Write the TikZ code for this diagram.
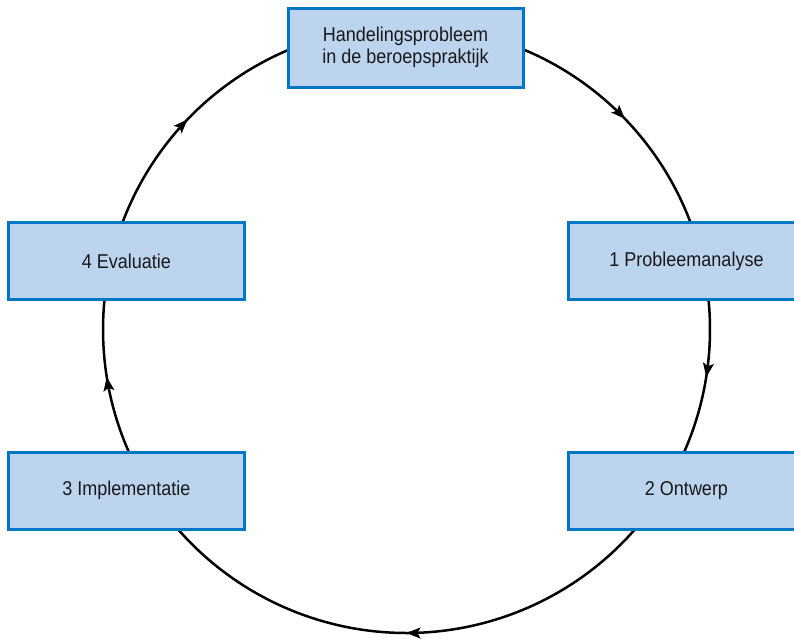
\documentclass[tikz,border=0pt]{standalone}
\usepackage{fontspec}
\setmainfont{Liberation Sans}[FakeStretch=0.9]
\usetikzlibrary{arrows.meta,decorations.markings}
\definecolor{boxfill}{RGB}{189,212,238}
\definecolor{boxline}{RGB}{0,118,198}
\definecolor{txt}{RGB}{25,25,25}
\begin{document}
\begin{tikzpicture}[x=1pt,y=-1pt,
  stage/.style={draw=boxline,fill=boxfill,line width=3pt,minimum width=236pt,minimum height=77pt,
    inner sep=0pt,align=center,font=\fontsize{20}{21.5}\selectfont,text=txt},
  flow/.style={line width=2.5pt,postaction={decorate},
    decoration={markings,mark=at position 0.5 with {\arrow[line width=1pt]{Stealth[length=14pt,width=11pt,inset=3pt]}}}}]
\clip (0,0) rectangle (794,638);
\fill[white] (0,0) rectangle (794,638);
\coordinate (c) at (406.5,329.5);
% arc end points on the circle
\path (c) ++(-67.43:303.5) coordinate (topout);
\path (c) ++(-5.77:303.5) coordinate (p1out);
\path (c) ++(41.10:303.5) coordinate (p2out);
\path (c) ++(156.20:303.5) coordinate (p3out);
\path (c) ++(200.54:303.5) coordinate (p4out);
% connectors
\draw[flow] (topout) arc[start angle=-67.43,end angle=-20.54,radius=303.5];
\draw[flow] (p1out) arc[start angle=-5.77,end angle=23.80,radius=303.5];
\draw[flow] (p2out) arc[start angle=41.10,end angle=138.90,radius=303.5];
\draw[flow] (p3out) arc[start angle=156.20,end angle=185.77,radius=303.5];
\draw[flow] (p4out) arc[start angle=200.54,end angle=247.00,radius=303.5];
% stages
\node[stage,minimum width=235pt,minimum height=79pt] (top) at (405.5,47.5) {Handelingsprobleem\\in de beroepspraktijk};
\node[stage] (p1) at (686.5,261) {1 Probleemanalyse};
\node[stage] (p2) at (686.5,490.5) {2 Ontwerp};
\node[stage] (p3) at (126.5,490.5) {3 Implementatie};
\node[stage] (p4) at (126.5,261) {4 Evaluatie};
\end{tikzpicture}
\end{document}
